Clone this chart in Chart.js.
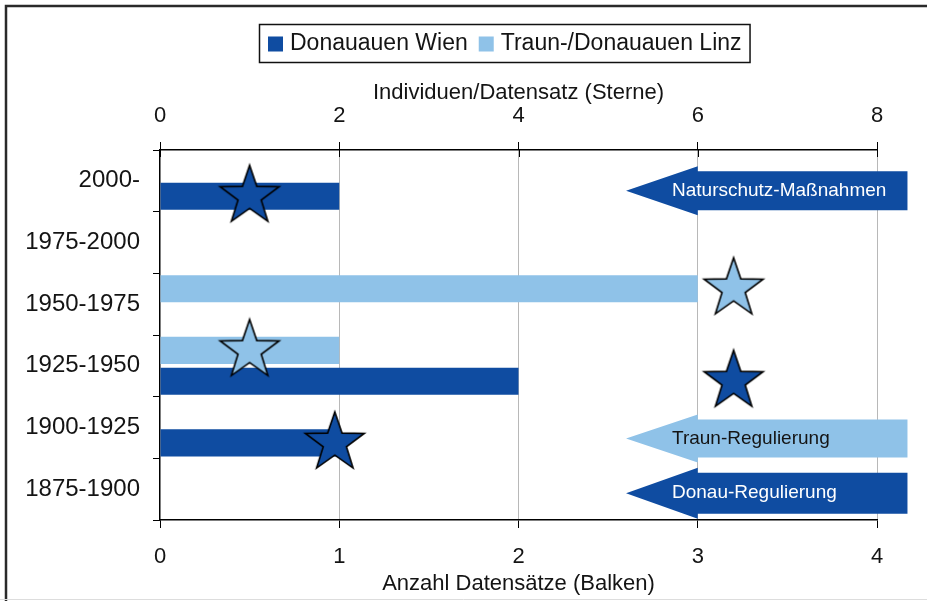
<!DOCTYPE html>
<html>
<head>
<meta charset="utf-8">
<script src="https://cdn.jsdelivr.net/npm/chart.js@4.4.1/dist/chart.umd.min.js"></script>
<style>
  html, body { margin: 0; padding: 0; background: #fff; }
</style>
</head>
<body>
<canvas id="chart" width="927" height="601"></canvas>
<script>
// periods, top to bottom
const periods = ['2000-', '1975-2000', '1950-1975', '1925-1950', '1900-1925', '1875-1900']

// number of data sets (bars, bottom axis)
const wienCounts = [1, null, null, 2, 1, null]
const linzCounts = [null, null, 3, 1, null, null]

// individuals per data set (stars, top axis)
const wienStarPeriods = ['2000-', '1925-1950', '1900-1925']
const wienStarValues = [1, 6.4, 1.95]
const linzStarPeriods = ['1950-1975', '1925-1950']
const linzStarValues = [6.4, 1]

const countTicks = [0, 1, 2, 3, 4]
const individualTicks = [0, 2, 4, 6, 8]

const darkBlue = '#0f4ca1'
const lightBlue = '#8fc2e8'

// arrows on the right (bottom axis values)
const arrowNotes = [
  { text: 'Naturschutz-Maßnahmen', period: '2000-', fill: darkBlue, color: '#ffffff', shift: 10, thick: 39 },
  { text: 'Traun-Regulierung', period: '1900-1925', fill: lightBlue, color: '#141414', shift: 11, thick: 38 },
  { text: 'Donau-Regulierung', period: '1875-1900', fill: darkBlue, color: '#ffffff', shift: 4, thick: 41 }
]
const arrowTip = 2.6
const arrowBase = 3.0
const arrowEnd = 4.17

Chart.defaults.font.family = '"Liberation Sans", Arial, sans-serif'
Chart.defaults.color = '#141414'

function makeStar (fill) {
  const size = 68
  const c = document.createElement('canvas')
  c.width = size
  c.height = size
  const g = c.getContext('2d')
  const R = 31
  const r = 12.2
  g.beginPath()
  for (let i = 0; i < 10; i++) {
    const rad = i % 2 ? r : R
    const a = -Math.PI / 2 + i * Math.PI / 5
    g.lineTo(size / 2 + rad * Math.cos(a), size / 2 + rad * Math.sin(a))
  }
  g.closePath()
  g.fillStyle = fill
  g.fill()
  g.lineWidth = 1.6
  g.strokeStyle = '#000'
  g.stroke()
  return c
}

function starPoints (names, values) {
  return names.map((p, i) => ({ x: values[i], y: p }))
}

const extras = {
  id: 'extras',
  // put every star on the centre of the bar of its own group
  afterDatasetsUpdate (chart) {
    chart.data.datasets.forEach((ds, i) => {
      if (ds.barDataset === undefined) return
      const meta = chart.getDatasetMeta(i)
      const bars = chart.getDatasetMeta(ds.barDataset).data
      meta.data.forEach((pt, j) => {
        const idx = meta._parsed[j].y
        if (bars[idx]) pt.y = bars[idx].y
      })
    })
  },
  beforeDraw (chart) {
    const ctx = chart.ctx
    ctx.save()
    ctx.fillStyle = '#fff'
    ctx.fillRect(0, 0, chart.width, chart.height)
    ctx.strokeStyle = '#2a2a2a'
    ctx.lineWidth = 2.5
    ctx.beginPath()
    ctx.moveTo(6, chart.height)
    ctx.lineTo(6, 6)
    ctx.lineTo(chart.width, 6)
    ctx.stroke()
    ctx.strokeStyle = '#dddddd'
    ctx.lineWidth = 1
    ctx.beginPath()
    ctx.moveTo(0, 599.5)
    ctx.lineTo(chart.width, 599.5)
    ctx.stroke()
    ctx.restore()
  },
  afterDatasetsDraw (chart) {
    const ctx = chart.ctx
    const x = chart.scales.x
    const y = chart.scales.y
    const tip = x.getPixelForValue(arrowTip)
    const base = x.getPixelForValue(arrowBase)
    const end = x.getPixelForValue(arrowEnd)
    ctx.save()
    arrowNotes.forEach(a => {
      const cy = y.getPixelForValue(periods.indexOf(a.period)) + a.shift
      const h = a.thick / 2
      const hh = h + 5
      ctx.fillStyle = a.fill
      ctx.beginPath()
      ctx.moveTo(tip, cy)
      ctx.lineTo(base, cy - hh)
      ctx.lineTo(base, cy - h)
      ctx.lineTo(end, cy - h)
      ctx.lineTo(end, cy + h)
      ctx.lineTo(base, cy + h)
      ctx.lineTo(base, cy + hh)
      ctx.closePath()
      ctx.fill()
      ctx.fillStyle = a.color
      ctx.font = '19px "Liberation Sans", Arial, sans-serif'
      ctx.textAlign = 'left'
      ctx.textBaseline = 'middle'
      ctx.fillText(a.text, 672, cy)
    })
    ctx.restore()
  },
  afterDraw (chart) {
    const ctx = chart.ctx
    const top = chart.scales.x2
    ctx.save()
    // inner half of the top tick marks
    ctx.strokeStyle = '#000'
    ctx.lineWidth = 1
    top.ticks.forEach(t => {
      const px = Math.round(top.getPixelForValue(t.value)) + 0.5
      ctx.beginPath()
      ctx.moveTo(px, top.bottom)
      ctx.lineTo(px, top.bottom + 7)
      ctx.stroke()
    })
    // legend box
    const items = [
      { text: chart.data.datasets[1].label, color: darkBlue },
      { text: chart.data.datasets[0].label, color: lightBlue }
    ]
    ctx.font = '23px "Liberation Sans", Arial, sans-serif'
    const sq = 15
    const widths = items.map(it => ctx.measureText(it.text).width)
    const total = 9 + sq + 7 + widths[0] + 11 + sq + 7 + widths[1] + 8
    const left = Math.round(504 - total / 2)
    const bt = 24
    const bh = 38
    ctx.strokeStyle = '#111'
    ctx.lineWidth = 1.5
    ctx.strokeRect(left + 0.5, bt + 0.5, total, bh)
    let cx = left + 9
    const cy = bt + bh / 2 + 1
    ctx.textBaseline = 'middle'
    ctx.textAlign = 'left'
    items.forEach((it, i) => {
      ctx.fillStyle = it.color
      ctx.fillRect(cx, cy - sq / 2, sq, sq)
      cx += sq + 7
      ctx.fillStyle = '#141414'
      ctx.fillText(it.text, cx, cy)
      cx += widths[i] + 11
    })
    ctx.restore()
  }
}

new Chart(document.getElementById('chart'), {
  type: 'bar',
  data: {
    labels: periods,
    datasets: [
      {
        label: 'Traun-/Donauauen Linz',
        data: linzCounts,
        backgroundColor: lightBlue,
        xAxisID: 'x',
        yAxisID: 'y',
        order: 1
      },
      {
        label: 'Donauauen Wien',
        data: wienCounts,
        backgroundColor: darkBlue,
        xAxisID: 'x',
        yAxisID: 'y',
        order: 1
      },
      {
        type: 'scatter',
        label: 'Sterne Linz',
        data: starPoints(linzStarPeriods, linzStarValues),
        barDataset: 0,
        pointStyle: makeStar(lightBlue),
        pointRadius: 31,
        xAxisID: 'x2',
        yAxisID: 'y',
        order: 0,
        clip: false
      },
      {
        type: 'scatter',
        label: 'Sterne Wien',
        data: starPoints(wienStarPeriods, wienStarValues),
        barDataset: 1,
        pointStyle: makeStar(darkBlue),
        pointRadius: 31,
        xAxisID: 'x2',
        yAxisID: 'y',
        order: 0,
        clip: false
      }
    ]
  },
  options: {
    indexAxis: 'y',
    responsive: false,
    animation: false,
    devicePixelRatio: 1,
    datasets: { bar: { barPercentage: 0.88, categoryPercentage: 1 } },
    layout: { padding: { top: 66, left: 0, right: 50, bottom: 0 } },
    plugins: {
      legend: { display: false },
      tooltip: { enabled: false }
    },
    scales: {
      x: {
        type: 'linear',
        position: 'bottom',
        min: countTicks[0],
        max: countTicks[countTicks.length - 1],
        afterBuildTicks: s => { s.ticks = countTicks.map(v => ({ value: v })) },
        ticks: { font: { size: 22 }, padding: 16, color: '#141414' },
        grid: {
          color: c => (c.tick && c.tick.value === 0 ? 'rgba(0,0,0,0)' : '#b8b8b8'),
          tickColor: '#000',
          tickLength: 8
        },
        border: { color: '#000', width: 1.5 },
        title: {
          display: true,
          text: 'Anzahl Datensätze (Balken)',
          font: { size: 22 },
          color: '#141414',
          padding: { top: 0, bottom: 4 }
        },
        afterFit: s => { s.height = 81 }
      },
      x2: {
        type: 'linear',
        axis: 'x',
        position: 'top',
        min: individualTicks[0],
        max: individualTicks[individualTicks.length - 1],
        afterBuildTicks: s => { s.ticks = individualTicks.map(v => ({ value: v })) },
        ticks: { font: { size: 22 }, padding: 13, color: '#141414' },
        grid: { drawOnChartArea: false, tickColor: '#000', tickLength: 8 },
        border: { color: '#000', width: 1.5 },
        title: {
          display: true,
          text: 'Individuen/Datensatz (Sterne)',
          font: { size: 22 },
          color: '#141414',
          padding: { top: 14, bottom: 0 }
        },
        afterFit: s => { s.height = 150 - 66 }
      },
      y: {
        type: 'category',
        offset: true,
        grid: { drawOnChartArea: false, offset: true, tickColor: '#000', tickLength: 7 },
        border: { color: '#000', width: 1.5 },
        ticks: { font: { size: 24 }, padding: 13, color: '#141414' },
        afterFit: s => { s.width = 160 }
      }
    }
  },
  plugins: [extras]
})
</script>
</body>
</html>
